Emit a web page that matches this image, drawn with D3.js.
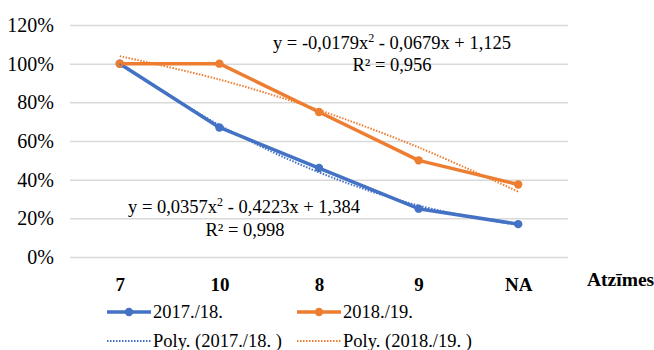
<!DOCTYPE html>
<html lang="en">
<head>
    <meta charset="UTF-8">
    <title>Atzīmes</title>
    <style>
        body { margin: 0; background: #fff; overflow: hidden; }
        svg { display: block; }
        text { font-family: "Liberation Serif", "Times New Roman", serif; fill: #000; }
    </style>
    <script src="https://cdnjs.cloudflare.com/ajax/libs/d3/7.8.5/d3.min.js"></script>
</head>
<body>
    <svg id="chart" width="654" height="350"></svg>
    <script>
        // data
        const categories = ["7", "10", "8", "9", "NA"];
        const series2017 = [100, 67, 46, 25, 17];
        const series2018 = [100, 100, 75, 50, 37.5];
        // trendline values at each category
        const trend2017 = [99.7, 68.2, 43.8, 26.6, 16.5];
        const trend2018 = [103.9, 91.8, 76.0, 56.7, 33.8];
        const yTicks = [0, 20, 40, 60, 80, 100, 120];

        const svg = d3.select("#chart");
        const plotLeft = 70, plotRight = 568, plotTop = 25, plotBottom = 257;

        const x = d3.scalePoint().domain(categories).range([plotLeft, plotRight]).padding(0.5);
        const y = d3.scaleLinear().domain([0, 120]).range([plotBottom, plotTop]);

        // gridlines + y labels
        const yAxis = d3.axisLeft(y).tickValues(yTicks).tickSize(-(plotRight - plotLeft)).tickFormat(d => d + "%");
        const gy = svg.append("g").attr("transform", `translate(${plotLeft},0)`).call(yAxis);
        gy.select(".domain").remove();
        gy.selectAll(".tick line").attr("stroke", "#d9d9d9").attr("stroke-width", 1.5);
        gy.selectAll(".tick text").attr("x", -16).attr("font-size", 20)
            .style("font-family", "Liberation Serif, serif").attr("fill", "#000");

        // x labels
        const xAxis = d3.axisBottom(x).tickSize(0);
        const gx = svg.append("g").attr("transform", `translate(0,${plotBottom})`).call(xAxis);
        gx.select(".domain").remove();
        gx.selectAll(".tick text").attr("y", 21).attr("font-size", 19).attr("font-weight", "bold")
            .style("font-family", "Liberation Serif, serif").attr("fill", "#000");

        svg.append("text").attr("x", 587).attr("y", 286).attr("font-size", 19.5)
            .attr("font-weight", "bold").text("Atzīmes");

        const line = d3.line().x((d, i) => x(categories[i])).y(d => y(d));
        const trend = d3.line().x((d, i) => x(categories[i])).y(d => y(d)).curve(d3.curveCatmullRom);

        function drawSeries(vals, color) {
            svg.append("path").datum(vals).attr("d", line).attr("fill", "none")
                .attr("stroke", color).attr("stroke-width", 3.5).attr("stroke-linejoin", "round");
            svg.append("g").selectAll("circle").data(vals).join("circle")
                .attr("cx", (d, i) => x(categories[i])).attr("cy", d => y(d))
                .attr("r", 4.2).attr("fill", color);
        }
        function drawTrend(vals, color) {
            svg.append("path").datum(vals).attr("d", trend).attr("fill", "none")
                .attr("stroke", color).attr("stroke-width", 2).attr("stroke-dasharray", "1.5,1.5");
        }

        drawSeries(series2017, "#4472C4");
        drawSeries(series2018, "#ED7D31");
        drawTrend(trend2017, "#4472C4");
        drawTrend(trend2018, "#ED7D31");

        // trendline equations
        function eq(cx, cy, parts) {
            const t = svg.append("text").attr("x", cx).attr("y", cy).attr("font-size", 18.5)
                .attr("text-anchor", "middle");
            t.append("tspan").text(parts[0]);
            t.append("tspan").attr("dy", -7).attr("font-size", 12).text("2");
            t.append("tspan").attr("dy", 7).text(parts[1]);
        }
        eq(392, 49, ["y = -0,0179x", " - 0,0679x + 1,125"]);
        svg.append("text").attr("x", 392).attr("y", 71).attr("font-size", 18.5)
            .attr("text-anchor", "middle").text("R² = 0,956");
        eq(244, 213, ["y = 0,0357x", " - 0,4223x + 1,384"]);
        svg.append("text").attr("x", 245).attr("y", 236).attr("font-size", 18.5)
            .attr("text-anchor", "middle").text("R² = 0,998");

        // legend
        const legend = [
            { label: "2017./18.", color: "#4472C4", dotted: false, x: 107, y: 312 },
            { label: "2018./19.", color: "#ED7D31", dotted: false, x: 297, y: 312 },
            { label: "Poly. (2017./18. )", color: "#4472C4", dotted: true, x: 107, y: 341 },
            { label: "Poly. (2018./19. )", color: "#ED7D31", dotted: true, x: 297, y: 341 }
        ];
        legend.forEach(l => {
            const g = svg.append("g");
            g.append("line").attr("x1", l.x).attr("x2", l.x + 44).attr("y1", l.y).attr("y2", l.y)
                .attr("stroke", l.color).attr("stroke-width", l.dotted ? 2 : 3.5)
                .attr("stroke-dasharray", l.dotted ? "1.5,1.5" : null);
            if (!l.dotted) g.append("circle").attr("cx", l.x + 22).attr("cy", l.y).attr("r", 4.2).attr("fill", l.color);
            g.append("text").attr("x", l.x + 46).attr("y", l.y + 6).attr("font-size", 18.5).text(l.label);
        });
    </script>
</body>
</html>
